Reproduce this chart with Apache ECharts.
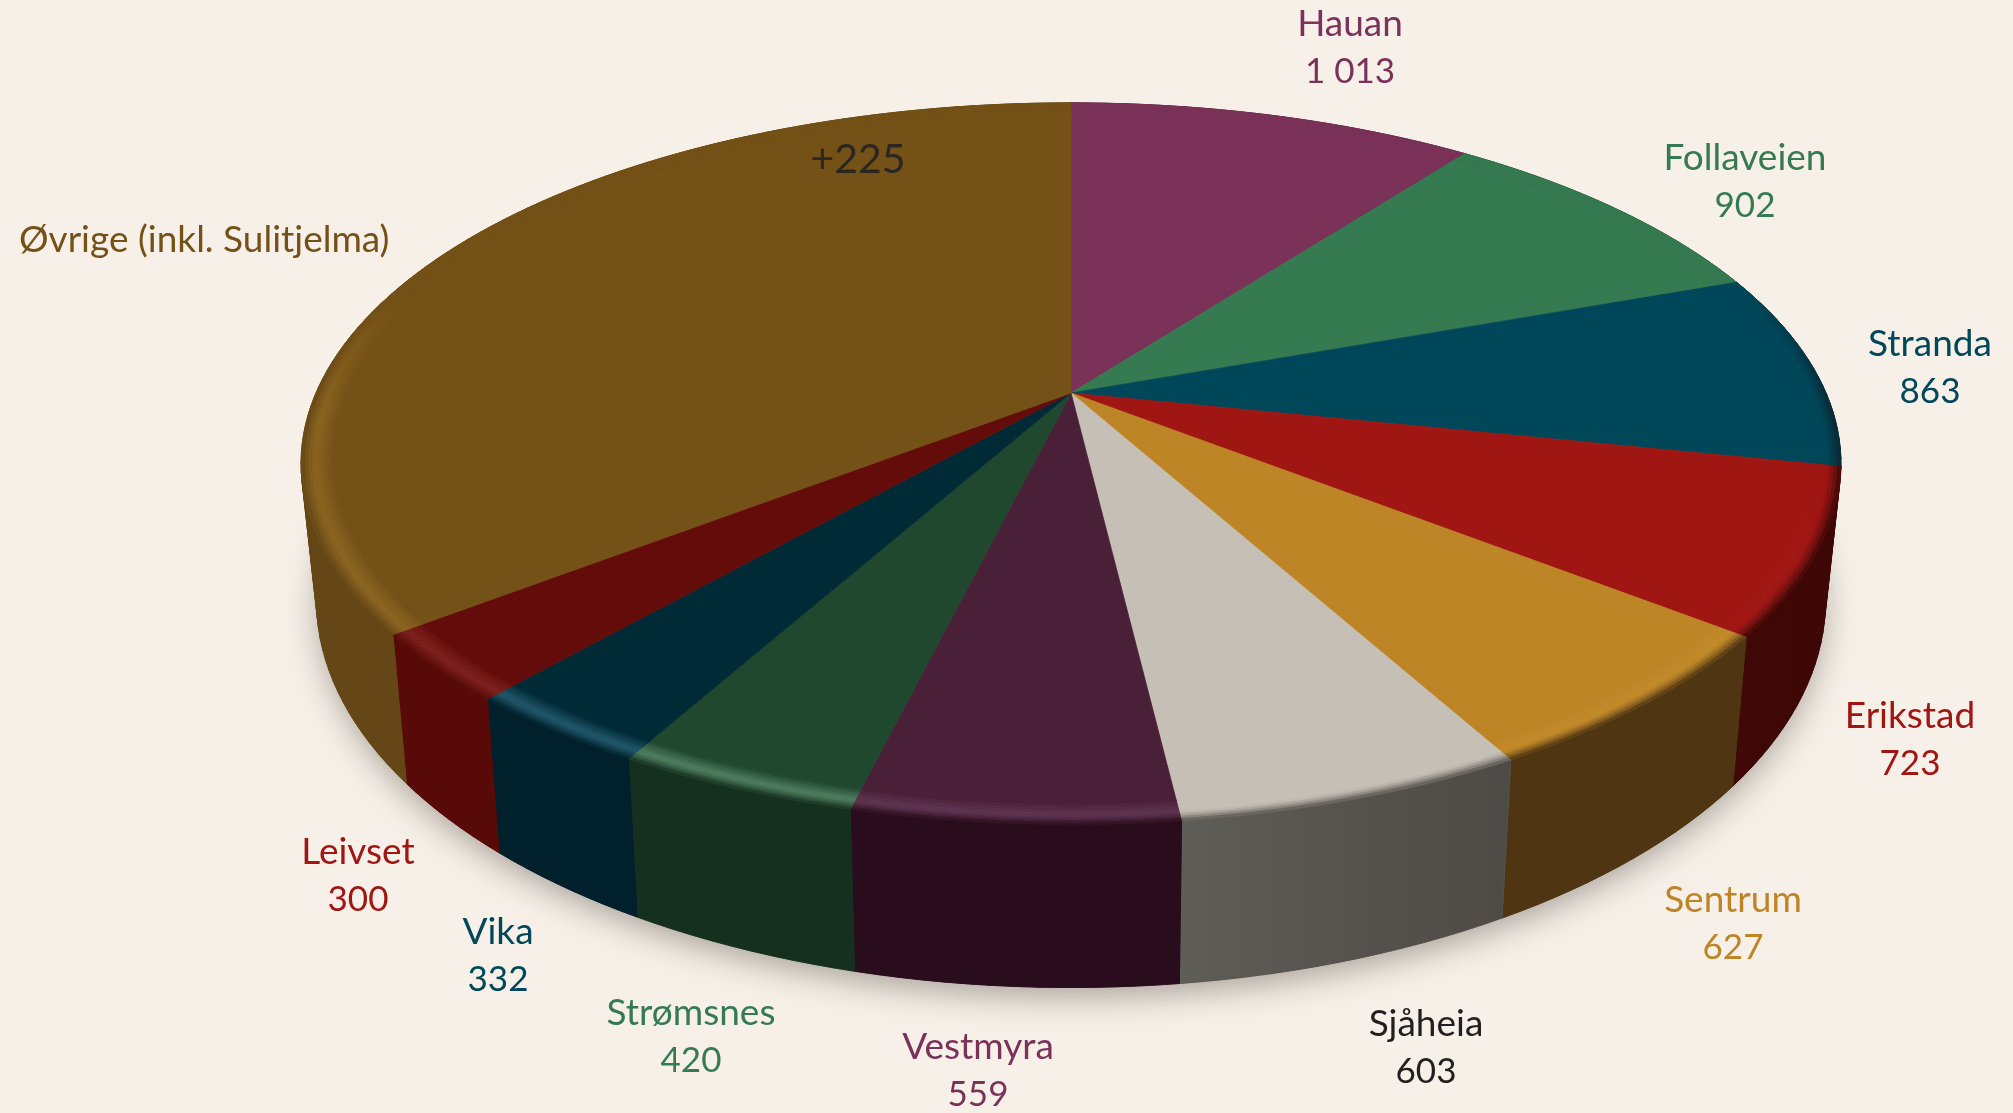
<!DOCTYPE html>
<html><head><meta charset="utf-8">
<style>html,body{margin:0;padding:0;background:#f6f0e9}#c{width:2013px;height:1113px}</style>
<script src="https://cdn.jsdelivr.net/npm/echarts@6/dist/echarts.min.js"></script>
</head><body><div id="c"></div>
<script>
// ---- data ----
const categories = ['Hauan','Follaveien','Stranda','Erikstad','Sentrum','Sjåheia','Vestmyra','Strømsnes','Vika','Leivset','Øvrige (inkl. Sulitjelma)'];
const values     = [1013, 902, 863, 723, 627, 603, 559, 420, 332, 300, 3490];
const valueLabels = ['1 013','902','863','723','627','603','559','420','332','300',''];
const noteLabel = '+225';
// ---- styles ----
const topColors  = ['#7b3259','#357a50','#00475a','#a01613','#be8527','#c6bfb5','#4a1f38','#1f482f','#012a37','#630c0a','#745117'];
const rimColors  = ['#7b3259','#357a50','#00475a','#a01613','#c28928','#c6bfb5','#5e3350','#4d7d5e','#1f5669','#7d1f1c','#8a6420'];
const wallLeft   = ['#4a1e36','#1f4a30','#0c2630','#400806','#4f3511','#5f5d57','#2a0d1c','#163020','#00202b','#580a08','#654616'];
const wallRight  = ['#4a1e36','#1f4a30','#0c2630','#3c0705','#4f3511','#4e4a46','#2a0d1c','#163020','#00202b','#580a08','#654616'];
const textColors = ['#7b3259','#357a50','#00475a','#a01613','#be8527','#231f20','#7b3259','#357a50','#00475a','#a01613','#745117'];
// label anchors in page pixels (centre of the two-line block)
const labelX = [1350,1745,1930,1910,1733,1426,978,691,498,358,19];
const labelY = [48,182,368,740,924,1048,1071,1037,956,876,240];
// ---- projection of the disc ----
const P = {x0:1071, y0:393, a:347, b:755, k:0.196, H:131, s:0.98, rimIn:0.96, rimSteps:9};
const total = values.reduce((s,v)=>s+v,0);
const cum = []; values.reduce((s,v,i)=>(cum[i]=s,s+v),0);
function topPt(theta,r){const u=r*Math.sin(theta),v=-r*Math.cos(theta),w=1-P.k*v;return [P.x0+P.b*u/w,P.y0+P.a*v/w];}
function botPt(theta,r,extra){const u=r*Math.sin(theta),v=-r*Math.cos(theta),w=1-P.k*v;return [P.x0+P.s*P.b*u/w,P.y0+(P.a*v+P.H+(extra||0))/w];}
function hex(c){return [1,3,5].map(i=>parseInt(c.substr(i,2),16));}
function mix(a,b,t){const A=hex(a),B=hex(b);return '#'+A.map((x,i)=>Math.round(x+(B[i]-x)*t).toString(16).padStart(2,'0')).join('');}
function span(value,i){const a0=cum[i]/total*2*Math.PI,a1=a0+value/total*2*Math.PI;const n=Math.max(2,Math.ceil((a1-a0)/(Math.PI/120)));return {a0,a1,n};}
function poly(pts,color){return {type:'polygon',shape:{points:pts},style:{fill:color,stroke:color,lineWidth:0.8},silent:true};}

function renderShadow(params,api){
  const pts=[];for(let i=0;i<240;i++){pts.push(botPt(i/240*2*Math.PI,0.995,0));}
  return {type:'polygon',shape:{points:pts},silent:true,style:{fill:'#ddd8d1',shadowBlur:34,shadowOffsetY:10,shadowOffsetX:0,shadowColor:'rgba(95,85,75,0.55)'}};
}
function renderWall(params,api){
  const i=params.dataIndex,{a0,a1,n}=span(api.value(0),i),children=[];
  const upper=[],lower=[];
  for(let j=0;j<=n;j++){const t=a0+(a1-a0)*j/n;upper.push(topPt(t,1));lower.push(botPt(t,1));}
  const mid=mix(wallLeft[i],wallRight[i],.5);
  for(let j=0;j<n;j++){children.push(poly([upper[j],upper[j+1],lower[j+1],lower[j]],mid));}
  const fill=new echarts.graphic.LinearGradient(0,0,1,0,[{offset:0,color:wallLeft[i]},{offset:1,color:wallRight[i]}]);
  children.push({type:'polygon',silent:true,shape:{points:upper.concat(lower.slice().reverse())},style:{fill,stroke:mid,lineWidth:0.6}});
  return {type:'group',children};
}
function renderTop(params,api){
  const i=params.dataIndex,{a0,a1,n}=span(api.value(0),i),children=[];
  const pts=[[P.x0,P.y0]];
  for(let j=0;j<=n;j++){pts.push(topPt(a0+(a1-a0)*j/n,P.rimIn+0.002));}
  children.push(poly(pts,topColors[i]));
  const wall=mix(wallLeft[i],wallRight[i],.5);
  for(let r=0;r<P.rimSteps;r++){
    const q=(r+.5)/P.rimSteps;
    const ringColor=q<.55?mix(topColors[i],rimColors[i],q/.55):mix(rimColors[i],wall,Math.pow((q-.55)/.45,1.4));
    const r0=P.rimIn+(1-P.rimIn)*r/P.rimSteps,r1=P.rimIn+(1-P.rimIn)*(r+1)/P.rimSteps;
    for(let j=0;j<n;j++){
      const t0=a0+(a1-a0)*j/n,t1=a0+(a1-a0)*(j+1)/n,tm=(t0+t1)/2;
      const v=-Math.cos(tm),strength=Math.min(1,Math.max(0,(v+0.3)/0.35));
      children.push(poly([topPt(t0,r0),topPt(t1,r0),topPt(t1,r1),topPt(t0,r1)],mix(topColors[i],ringColor,strength)));
    }
  }
  return {type:'group',children};
}
function renderLabel(params,api){
  const i=params.dataIndex,hasValue=!!valueLabels[i];
  const text=hasValue?'{n|'+categories[i]+'}\n{v|'+valueLabels[i]+'}':'{n|'+categories[i]+'}';
  return {type:'text',silent:true,x:labelX[i],y:labelY[i],style:{text,fill:textColors[i],
    rich:{n:{font:'37px Lato',lineHeight:48,fill:textColors[i]},v:{font:'35px Lato',lineHeight:48,fill:textColors[i]}},
    align:hasValue?'center':'left',verticalAlign:'middle'}};
}
const rows=values.map(v=>[v]);
const base={type:'custom',coordinateSystem:'none',silent:true,animation:false,clip:false};
const chart=echarts.init(document.getElementById('c'),null,{renderer:'canvas'});
chart.setOption({
  backgroundColor:'#f6f0e9',animation:false,
  series:[
    Object.assign({},base,{name:'shadow',z:1,data:[[0]],renderItem:renderShadow}),
    Object.assign({},base,{name:'wall',z:2,data:rows,renderItem:renderWall}),
    Object.assign({},base,{name:'top',z:3,data:rows,renderItem:renderTop}),
    Object.assign({},base,{name:'labels',z:4,data:rows,renderItem:renderLabel})
  ],
  graphic:[{type:'text',z:10,x:858,y:160,silent:true,style:{text:noteLabel,fill:'#2b2622',font:'41px Lato',align:'center',verticalAlign:'middle'}}]
});
</script></body></html>
